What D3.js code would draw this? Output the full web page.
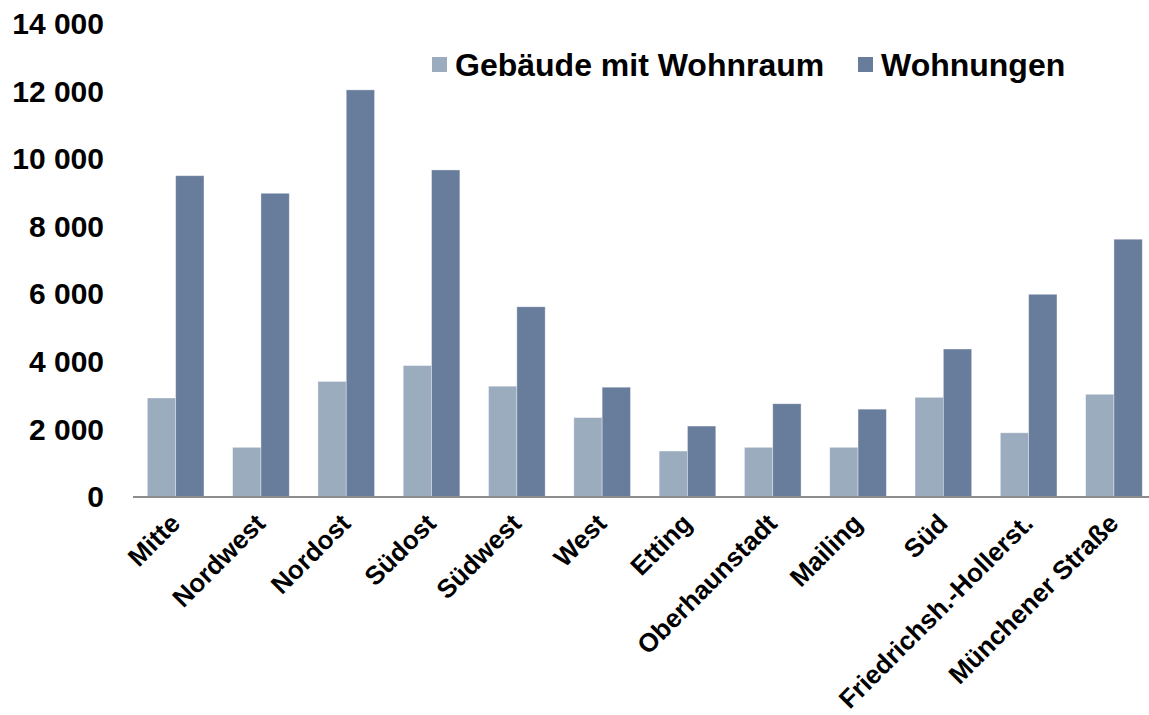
<!DOCTYPE html>
<html>
<head>
<meta charset="utf-8">
<script src="https://cdn.jsdelivr.net/npm/d3@7"></script>
<style>
  html, body { margin: 0; padding: 0; background: #fff; }
  svg { display: block; font-family: "Liberation Sans", Arial, sans-serif; font-weight: bold; }
</style>
</head>
<body>
<script>
const categories = [
  "Mitte", "Nordwest", "Nordost", "Südost", "Südwest", "West",
  "Etting", "Oberhaunstadt", "Mailing", "Süd", "Friedrichsh.-Hollerst.", "Münchener Straße"
];
const seriesNames = ["Gebäude mit Wohnraum", "Wohnungen"];
const gebaeude = [2930, 1470, 3420, 3890, 3280, 2350, 1360, 1470, 1470, 2950, 1900, 3040];
const wohnungen = [9510, 8990, 12050, 9680, 5630, 3250, 2100, 2760, 2600, 4380, 6000, 7630];
const yTicks = [0, 2000, 4000, 6000, 8000, 10000, 12000, 14000];
const colors = ["#9aacbd", "#687c9c"];

const width = 1149, height = 715;
const x0 = 133, step = 85.3;
const yBase = 497, yTop = 24;

const svg = d3.select("body").append("svg")
  .attr("width", width)
  .attr("height", height);

const x = d3.scaleBand()
  .domain(categories)
  .range([x0, x0 + step * categories.length])
  .paddingInner(0.336)
  .paddingOuter(0.168);

const xs = d3.scaleBand()
  .domain(seriesNames)
  .range([0, x.bandwidth()]);

const y = d3.scaleLinear()
  .domain([0, 14000])
  .range([yBase, yTop]);

const rows = categories.map((c, i) => ({ cat: c, values: [gebaeude[i], wohnungen[i]] }));

// bars
svg.append("g")
  .selectAll("g")
  .data(rows)
  .join("g")
  .attr("transform", (d) => `translate(${x(d.cat)},0)`)
  .selectAll("rect")
  .data((d) => d.values.map((v, k) => ({ key: seriesNames[k], v, k })))
  .join("rect")
  .attr("x", (d) => xs(d.key))
  .attr("y", (d) => y(d.v))
  .attr("width", xs.bandwidth())
  .attr("height", (d) => yBase - y(d.v))
  .attr("fill", (d) => colors[d.k])
  .attr("stroke", "rgba(255,255,255,0.45)")
  .attr("stroke-width", 0.8);

// y axis labels (no line)
const yAxis = svg.append("g")
  .attr("transform", "translate(104,0)")
  .call(
    d3.axisLeft(y)
      .tickValues(yTicks)
      .tickSize(0)
      .tickPadding(0)
      .tickFormat((d) => d3.format(",")(d).replace(",", " "))
  );
yAxis.select(".domain").remove();
yAxis.selectAll("text")
  .attr("font-size", 30)
  .attr("font-family", "Liberation Sans, Arial, sans-serif")
  .attr("font-weight", "bold")
  .attr("fill", "#000");

// x axis
const xAxis = svg.append("g")
  .attr("transform", `translate(0,${yBase})`)
  .call(d3.axisBottom(x).tickSize(0).tickFormat(() => ""));
xAxis.select(".domain")
  .attr("stroke", "#8c8c8c")
  .attr("stroke-width", 2)
  .attr("d", `M${x0},0H${width}`);

svg.append("g")
  .selectAll("text")
  .data(categories)
  .join("text")
  .attr("transform", (d) => `translate(${x(d) + x.bandwidth() / 2 + 6},${yBase + 28}) rotate(-45)`)
  .attr("text-anchor", "end")
  .attr("font-size", 26)
  .attr("fill", "#000")
  .text((d) => d);

// legend
const legendX = [432, 858];
const legend = svg.append("g")
  .selectAll("g")
  .data(seriesNames)
  .join("g")
  .attr("transform", (d, i) => `translate(${legendX[i]},57)`);
legend.append("rect")
  .attr("width", 15)
  .attr("height", 15)
  .attr("fill", (d, i) => colors[i]);
legend.append("text")
  .attr("x", 23)
  .attr("y", 19)
  .attr("font-size", 32)
  .attr("fill", "#000")
  .text((d) => d);
</script>
</body>
</html>
